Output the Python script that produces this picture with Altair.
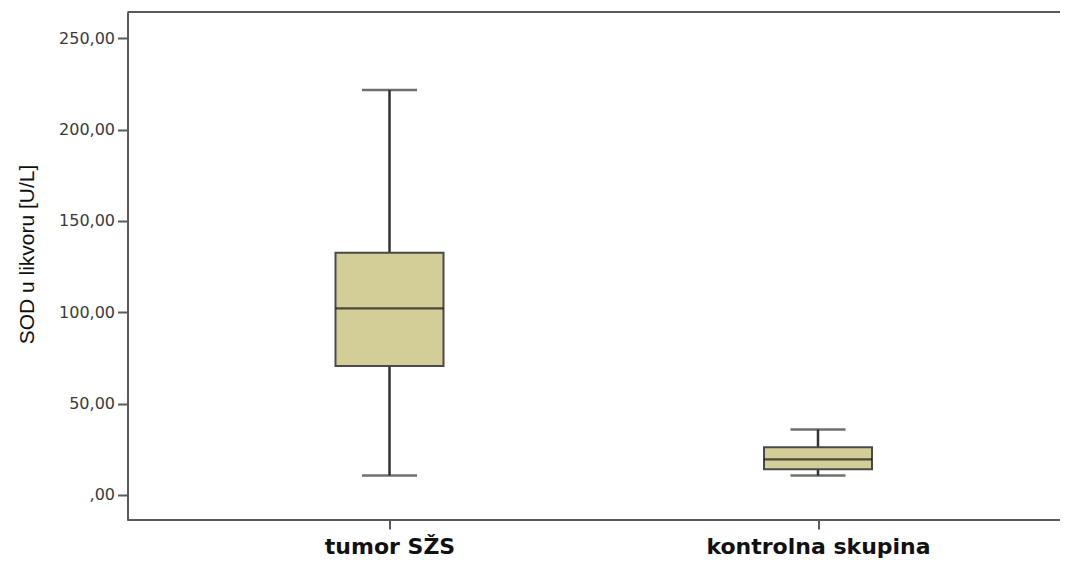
import altair as alt
import pandas as pd

# Data
categories = ["tumor SŽS", "kontrolna skupina"]
whisker_low = [10.6, 10.6]
q1 = [70.6, 14.1]
median = [102.2, 19.5]
q3 = [132.6, 26.1]
whisker_high = [221.7, 35.9]

y_ticks = [0, 50, 100, 150, 200, 250]
y_min, y_max = -13.7, 264.4

df = pd.DataFrame({
    "group": categories,
    "low": whisker_low,
    "q1": q1,
    "median": median,
    "q3": q3,
    "high": whisker_high,
})
frame_df = pd.DataFrame({"v": [y_min, y_max]})

W, H = 932, 508
line_col = "#5a5a5a"

yscale = alt.Scale(domain=[y_min, y_max], nice=False, zero=False)
yaxis = alt.Axis(
    title="SOD u likvoru [U/L]",
    values=y_ticks,
    labelExpr="datum.value == 0 ? ',00' : replace(format(datum.value, '.2f'), '.', ',')",
    grid=False,
    domain=True, domainColor=line_col, domainWidth=2,
    ticks=True, tickColor=line_col, tickWidth=2, tickSize=10,
    labelFont="DejaVu Sans", labelFontSize=16, labelColor="#3a3a3a", labelPadding=3,
    titleFont="'Liberation Sans Narrow', 'Liberation Sans', sans-serif",
    titleFontSize=21, titleFontWeight="normal", titleColor="#111111",
    titleAngle=270, titleX=-100, titleY=242, titleAlign="center", titleBaseline="middle",
)
xenc = alt.X(
    "group:N", sort=categories,
    scale=alt.Scale(type="point", range=[262, 690.5], padding=0),
    axis=alt.Axis(
        title=None, domain=False, labelAngle=0, labelLimit=0,
        ticks=True, tickColor=line_col, tickWidth=2, tickSize=9,
        labelFont="DejaVu Sans", labelFontWeight="bold", labelFontSize=22,
        labelColor="#111111", labelPadding=7,
    ),
)


def ys(field):
    return alt.Y(field, type="quantitative", scale=yscale, axis=yaxis)


base = alt.Chart(df)
whisker = base.mark_rule(color="#333333", strokeWidth=2.5).encode(
    x=xenc, y=ys("low"), y2="high"
)
cap_low = base.mark_tick(size=55, thickness=2.5, color="#333333", orient="horizontal").encode(
    x=xenc, y=ys("low")
)
cap_high = base.mark_tick(size=55, thickness=2.5, color="#333333", orient="horizontal").encode(
    x=xenc, y=ys("high")
)
box = base.mark_bar(size=108, fill="#D3CE97", stroke="#4a4a4a", strokeWidth=2, opacity=1).encode(
    x=xenc, y=ys("q1"), y2="q3"
)
med = base.mark_tick(size=108, thickness=2.2, color="#111111", orient="horizontal").encode(
    x=xenc, y=ys("median")
)
frame = alt.Chart(frame_df).mark_rule(color=line_col, strokeWidth=2).encode(
    y=ys("v"), x=alt.value(0), x2=alt.value(W + 10)
)

chart = alt.layer(frame, whisker, cap_low, cap_high, box, med).properties(
    width=W, height=H,
    padding={"left": 119.5, "top": 4, "right": 0, "bottom": 42},
    autosize=alt.AutoSizeParams(type="none"),
).configure_view(stroke=None)

chart.save("out.html", embed_options={"renderer": "svg", "actions": False})
